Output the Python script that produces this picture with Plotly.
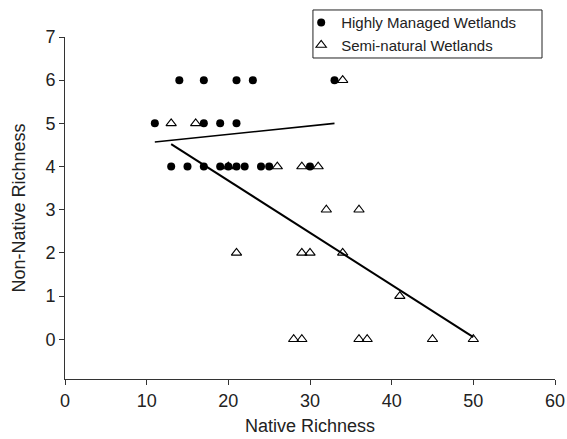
import plotly.graph_objects as go

# Highly managed wetlands (filled circles)
managed_x = [14, 17, 21, 23, 33,
             11, 17, 19, 21,
             13, 15, 17, 19, 20, 21, 22, 24, 25, 30]
managed_y = [6, 6, 6, 6, 6,
             5, 5, 5, 5,
             4, 4, 4, 4, 4, 4, 4, 4, 4, 4]

# Semi-natural wetlands (open triangles)
semi_x = [34,
          13, 16,
          20, 26, 29, 31,
          32, 36,
          21, 29, 30, 34,
          41,
          28, 29, 36, 37, 45, 50]
semi_y = [6,
          5, 5,
          4, 4, 4, 4,
          3, 3,
          2, 2, 2, 2,
          1,
          0, 0, 0, 0, 0, 0]

# Fitted trend lines (endpoints)
managed_fit_x = [11, 33]
managed_fit_y = [4.57, 5.0]
semi_fit_x = [13, 50]
semi_fit_y = [4.52, 0.05]

x_ticks = [0, 10, 20, 30, 40, 50, 60]
y_ticks = [0, 1, 2, 3, 4, 5, 6, 7]

FONT = "Liberation Sans, Arial, sans-serif"
AX = "#333333"

fig = go.Figure()
fig.add_trace(go.Scatter(x=managed_fit_x, y=managed_fit_y, mode="lines",
                         line=dict(color="black", width=1.6), showlegend=False,
                         hoverinfo="skip"))
fig.add_trace(go.Scatter(x=semi_fit_x, y=semi_fit_y, mode="lines",
                         line=dict(color="black", width=2), showlegend=False,
                         hoverinfo="skip"))
fig.add_trace(go.Scatter(x=managed_x, y=managed_y, mode="markers",
                         name="Highly Managed Wetlands",
                         marker=dict(symbol="circle", size=8, color="black",
                                     line=dict(width=0))))
fig.add_trace(go.Scatter(x=semi_x, y=semi_y, mode="markers",
                         name="Semi-natural Wetlands",
                         marker=dict(symbol="triangle-up-open", size=9, color="black",
                                     line=dict(width=1.1))))

# legend frame
fig.add_shape(type="rect", xref="paper", yref="paper",
              x0=0.506, x1=0.9735, y0=0.9386, y1=1.079,
              line=dict(color="#222222", width=1), fillcolor="white", layer="below")

fig.update_layout(
    width=567, height=439,
    margin=dict(l=65, r=12, t=37, b=60, autoexpand=False),
    paper_bgcolor="white", plot_bgcolor="white",
    font=dict(family=FONT, color="#222222", size=17),
    showlegend=True,
    legend=dict(x=0.482, y=1.09, xanchor="left", yanchor="top",
                borderwidth=0, bgcolor="rgba(0,0,0,0)",
                font=dict(size=15, family=FONT), tracegroupgap=0,
                itemwidth=30),
    xaxis=dict(range=[0, 60], tickvals=x_ticks, ticks="outside", ticklen=5,
               tickcolor=AX, showline=True, linecolor=AX, linewidth=1,
               showgrid=False, zeroline=False, tickfont=dict(size=18),
               automargin=False,
               title=dict(text="Native Richness", font=dict(size=18), standoff=9)),
    yaxis=dict(range=[-0.92, 7], tickvals=y_ticks, ticks="outside", ticklen=5,
               tickcolor=AX, showline=True, linecolor=AX, linewidth=1,
               showgrid=False, zeroline=False, tickfont=dict(size=18),
               automargin=False,
               title=dict(text="Non-Native Richness", font=dict(size=18), standoff=15)),
)

fig.write_html("out.html", config={"displayModeBar": False},
               post_script="document.body.style.margin='0';document.body.style.padding='0';")
